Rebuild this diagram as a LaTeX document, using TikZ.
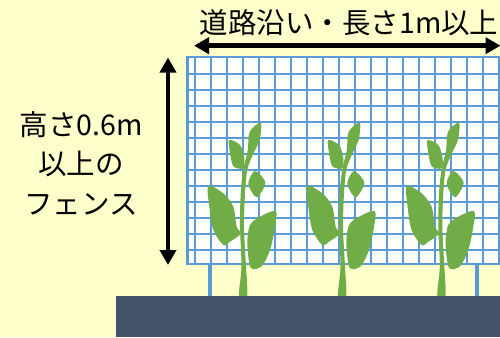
\documentclass[tikz,border=0pt]{standalone}
\usepackage{fontspec}
\setmainfont{Noto Sans CJK JP}
\usetikzlibrary{arrows.meta}
\definecolor{paper}{HTML}{FFFFCC}
\definecolor{wireblue}{HTML}{5B9BD5}
\definecolor{soil}{HTML}{44546A}
\definecolor{leafgreen}{HTML}{70AD47}
\tikzset{
  wire/.style={wireblue,line width=2pt},
  leaf/.style={fill=leafgreen},
  measure/.style={black,line width=4.5pt,<->,>={Triangle[length=15pt,width=16pt]}},
  label/.style={inner sep=0pt,font=\fontsize{28.5pt}{39.5pt}\selectfont}
}
\newcommand{\sprout}[1]{%
\begin{scope}[shift={(#1)}]
\fill[leaf] plot[smooth cycle] coordinates {(-3.6,0) (-1.2,-29) (-2.7,-69) (-2,-102) (0.5,-126) (5,-145) (7,-164) (18,-173) (17,-156) (10.6,-142) (4.6,-126) (2.3,-102) (1.3,-69) (3.3,-29) (4.4,0)};
\fill[leaf] plot[smooth cycle] coordinates {(-13.4,-155.7) (-2.7,-150.7) (1.5,-138) (0.6,-127.4) (-9.4,-129.5) (-13,-145)};
\fill[leaf] plot[smooth cycle] coordinates {(12.3,-124.7) (22.6,-113) (14,-98.4) (5.6,-112)};
\fill[leaf] plot[smooth cycle] coordinates {(-34.4,-109.7) (-19.4,-102.4) (-9.4,-89) (-6,-69) (-2,-62) (-12.7,-54) (-19.4,-50.7) (-29.4,-65.7) (-33.4,-89)};
\fill[leaf] plot[smooth cycle] coordinates {(33,-84.7) (17.3,-79) (7.3,-70.7) (4.6,-52.4) (8,-28) (19,-29.5) (27.3,-45.7) (32.3,-69)};
\end{scope}}

\begin{document}
\begin{tikzpicture}[x=1pt,y=-1pt]
\useasboundingbox (0,0) rectangle (500,337);
\clip (0,0) rectangle (500,337);
\fill[paper] (0,0) rectangle (500,337);
\fill[wireblue] (207.5,262) rectangle (212,297);
\fill[wireblue] (474.8,262) rectangle (479.3,297);
\fill[white] (187.5,57) rectangle (505,264);
\foreach \x in {0,...,19}
  \draw[wire] ({194.7+16*\x},57) -- ({194.7+16*\x},264);
\foreach \y in {0,...,11}
  \draw[wire] (187.5,{73.5+16*\y}) -- (505,{73.5+16*\y});
\draw[wireblue,line width=2.5pt] (187.5,57) rectangle (505,264);
\sprout{242.7,295.7}
\sprout{341.7,295.7}
\sprout{441,295.7}
\fill[soil] (116,296) rectangle (500,337);
\coordinate (wl) at (194,45.7);
\coordinate (wr) at (500.5,45.7);
\coordinate (ht) at (168,57.5);
\coordinate (hb) at (168,265);
\draw[measure] (wl) -- (wr);
\draw[measure] (ht) -- (hb);
\node[label,anchor=west] (along) at (199.5,23) {道路沿い・長さ1m以上};
\node[label,align=center] (height) at (81,163) {高さ0.6m\\以上の\\フェンス};
\end{tikzpicture}
\end{document}
